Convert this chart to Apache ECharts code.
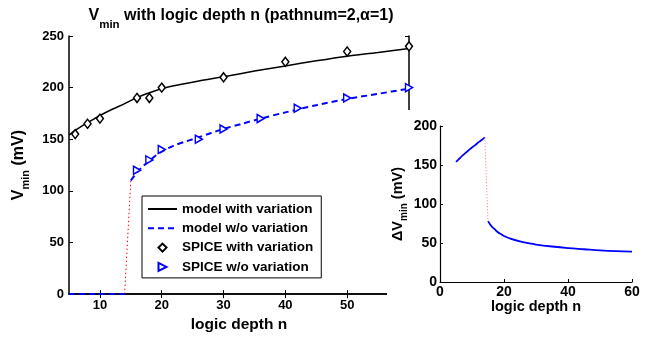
<!DOCTYPE html>
<html>
<head>
<meta charset="utf-8">
<script src="https://cdn.jsdelivr.net/npm/echarts@6/dist/echarts.min.js"></script>
<style>html,body{margin:0;padding:0;background:#fff}#c{width:650px;height:338px}</style>
</head>
<body>
<div id="c"></div>
<script>
// ---- data ----
const modelVarN = [5, 6, 7, 8, 9, 10, 12, 14, 16, 18, 20, 23, 26, 30, 35, 40, 45, 50, 55, 60];
const modelVarV = [154, 158.5, 162.5, 166, 169.5, 173, 179, 184.5, 190.5, 195, 199, 203, 206.5, 210.5, 216, 221, 226, 230.5, 234, 238];

const modelWoN1 = [5, 14];
const modelWoV1 = [0, 0];
const modelWoN2 = [15, 16, 17, 18, 19, 20, 22, 24, 26, 28, 30, 33, 36, 40, 45, 50, 55, 60];
const modelWoV2 = [110, 118, 124, 129, 134, 138, 144, 148, 152, 156, 160, 165, 170, 176, 183, 189, 194, 199];

const jumpN = [14, 15];
const jumpV = [0, 110];

const spiceVarN = [6, 8, 10, 16, 18, 20, 30, 40, 50, 60];
const spiceVarV = [155, 165, 170, 190, 190, 200, 210, 225, 235, 240];

const spiceWoN = [16, 18, 20, 26, 30, 36, 42, 50, 60];
const spiceWoV = [120, 130, 140, 150, 160, 170, 180, 190, 200];

const dN1 = [5, 6, 7, 8, 9, 10, 11, 12, 13, 14];
const dV1 = [154, 158, 162, 165.5, 169, 172.5, 175.5, 179, 182, 185.5];
const dN2 = [15, 16, 17, 18, 19, 20, 22, 25, 28, 30, 35, 40, 45, 50, 55, 60];
const dV2 = [78, 72, 68, 64, 61.5, 59, 55.5, 52, 49.5, 48, 45.5, 43.5, 42, 40.5, 39.5, 39];
const dJumpN = [14, 15];
const dJumpV = [185.5, 78];

const mainXTicks = [10, 20, 30, 40, 50];
const legendNames = ['model with variation', 'model w/o variation', 'SPICE with variation', 'SPICE w/o variation'];

// ---- helpers ----
const pairs = (xs, ys) => xs.map((x, i) => [x, ys[i]]);
const FONT = 'Liberation Sans, Arial, Helvetica, sans-serif';
const tri = 'path://M0,0L10,5L0,10Z';

const chart = echarts.init(document.getElementById('c'), null, {renderer: 'canvas'});

const axisLine = {show: true, lineStyle: {color: '#000', width: 1.5}};
const lbl = {color: '#000', fontFamily: FONT, fontWeight: 'bold', fontSize: 13};

chart.setOption({
  animation: false,
  backgroundColor: '#fff',
  title: {
    text: '{a|V}{s|min}{a| with logic depth n (pathnum=2,α=1)}',
    left: 236, top: 3, textAlign: 'center',
    textStyle: {
      rich: {
        a: {fontFamily: FONT, fontWeight: 'bold', fontSize: 16, color: '#000', lineHeight: 18, verticalAlign: 'top'},
        s: {fontFamily: FONT, fontWeight: 'bold', fontSize: 11.5, color: '#000', lineHeight: 18, verticalAlign: 'top', padding: [11, 0, 0, 0]}
      }
    }
  },
  grid: [
    {left: 69, top: 36, right: 241, bottom: 41, containLabel: false},
    {left: 440, top: 126, right: 18, bottom: 56, containLabel: false}
  ],
  legend: {
    data: [
      {name: legendNames[0], itemStyle: {opacity: 0}},
      {name: legendNames[1], itemStyle: {opacity: 0}},
      {name: legendNames[2]},
      {name: legendNames[3]}
    ],
    orient: 'vertical',
    left: 142, top: 196,
    width: 180,
    padding: [6, 8, 4, 5],
    itemGap: 5.3,
    itemWidth: 29, itemHeight: 10,
    backgroundColor: '#fff',
    borderColor: '#000', borderWidth: 1,
    textStyle: {color: '#000', fontFamily: FONT, fontWeight: 'bold', fontSize: 13.5, lineHeight: 14},
    z: 20
  },
  xAxis: [
    {gridIndex: 0, type: 'value', min: 5, max: 60, position: 'bottom',
     name: 'logic depth n', nameLocation: 'middle', nameGap: 18,
     nameTextStyle: {color: '#000', fontFamily: FONT, fontWeight: 'bold', fontSize: 15.5},
     axisLine: axisLine,
     axisTick: {show: true, inside: true, length: 4, customValues: mainXTicks, lineStyle: {color: '#000', width: 1}},
     axisLabel: Object.assign({customValues: mainXTicks, margin: 5}, lbl),
     splitLine: {show: false}},
    {gridIndex: 0, type: 'value', min: 5, max: 60, position: 'top',
     axisLine: axisLine,
     axisTick: {show: true, inside: true, length: 4, customValues: mainXTicks, lineStyle: {color: '#000', width: 1}},
     axisLabel: {show: false}, splitLine: {show: false}},
    {gridIndex: 1, type: 'value', min: 0, max: 60, interval: 20,
     name: 'logic depth n', nameLocation: 'middle', nameGap: 15,
     nameTextStyle: {color: '#000', fontFamily: FONT, fontWeight: 'bold', fontSize: 14.5},
     axisLine: {show: true, lineStyle: {color: '#000', width: 1.2}},
     axisTick: {show: true, inside: true, length: 3, lineStyle: {color: '#000', width: 1}},
     axisLabel: Object.assign({margin: 3}, lbl, {fontSize: 14}),
     splitLine: {show: false}, z: 60}
  ],
  yAxis: [
    {gridIndex: 0, type: 'value', min: 0, max: 250, interval: 50, position: 'left',
     name: '{v|V}{s|min}{v| (mV)}', nameLocation: 'middle', nameGap: 32, nameRotate: 90,
     nameTextStyle: {rich: {
       v: {fontFamily: FONT, fontWeight: 'bold', fontSize: 16, color: '#000', lineHeight: 20, verticalAlign: 'top'},
       s: {fontFamily: FONT, fontWeight: 'bold', fontSize: 11, color: '#000', lineHeight: 20, verticalAlign: 'top', padding: [10, 0, 0, 0]}
     }},
     axisLine: axisLine,
     axisTick: {show: true, inside: true, length: 4, lineStyle: {color: '#000', width: 1}},
     axisLabel: Object.assign({margin: 5}, lbl),
     splitLine: {show: false}},
    {gridIndex: 0, type: 'value', min: 0, max: 250, interval: 50, position: 'right',
     axisLine: axisLine,
     axisTick: {show: true, inside: true, length: 4, lineStyle: {color: '#000', width: 1}},
     axisLabel: {show: false}, splitLine: {show: false}},
    {gridIndex: 1, type: 'value', min: 0, max: 200, interval: 50,
     name: '{v|ΔV}{s|min}{v| (mV)}', nameLocation: 'middle', nameGap: 28, nameRotate: 90,
     nameTextStyle: {rich: {
       v: {fontFamily: FONT, fontWeight: 'bold', fontSize: 14.5, color: '#000', lineHeight: 18, verticalAlign: 'top'},
       s: {fontFamily: FONT, fontWeight: 'bold', fontSize: 10, color: '#000', lineHeight: 18, verticalAlign: 'top', padding: [9, 0, 0, 0]}
     }},
     axisLine: {show: true, lineStyle: {color: '#000', width: 1.2}},
     axisTick: {show: true, inside: true, length: 3, lineStyle: {color: '#000', width: 1}},
     axisLabel: Object.assign({margin: 3}, lbl, {fontSize: 14}),
     splitLine: {show: false}, z: 60}
  ],
  graphic: [
    {type: 'rect', left: 387, top: 110, shape: {width: 263, height: 228}, style: {fill: '#fff'}, z: 50, silent: true}
  ],
  series: [
    {name: 'model with variation', type: 'line', xAxisIndex: 0, yAxisIndex: 0,
     data: pairs(modelVarN, modelVarV), smooth: 0.3, symbol: 'none',
     lineStyle: {color: '#000', width: 1.5}, itemStyle: {color: '#000'}, z: 3},
    {name: 'model w/o variation', type: 'line', xAxisIndex: 0, yAxisIndex: 0,
     data: pairs(modelWoN1, modelWoV1).concat([[14.5, '-']], pairs(modelWoN2, modelWoV2)),
     smooth: 0.3, symbol: 'none', connectNulls: false,
     lineStyle: {color: '#0000ff', width: 2, type: [6, 4]}, itemStyle: {color: '#0000ff'}, z: 3},
    {name: 'jump', type: 'line', xAxisIndex: 0, yAxisIndex: 0,
     data: pairs(jumpN, jumpV), symbol: 'none',
     lineStyle: {color: '#ff0000', width: 1, type: [1.5, 2.5]}, z: 2},
    {name: 'SPICE with variation', type: 'line', xAxisIndex: 0, yAxisIndex: 0,
     data: pairs(spiceVarN, spiceVarV), symbol: 'diamond', symbolSize: [7, 9], showSymbol: true,
     lineStyle: {opacity: 0, width: 0}, itemStyle: {color: '#fff', borderColor: '#000', borderWidth: 1.5},
     clip: false, z: 4},
    {name: 'SPICE w/o variation', type: 'line', xAxisIndex: 0, yAxisIndex: 0,
     data: pairs(spiceWoN, spiceWoV), symbol: tri, symbolSize: [7, 8], showSymbol: true,
     lineStyle: {opacity: 0, width: 0}, itemStyle: {color: '#fff', borderColor: '#0000ff', borderWidth: 1.5},
     clip: false, z: 4},
    {name: 'delta', type: 'line', xAxisIndex: 2, yAxisIndex: 2,
     data: pairs(dN1, dV1).concat([[14.5, '-']], pairs(dN2, dV2)),
     smooth: 0.4, symbol: 'none', connectNulls: false,
     lineStyle: {color: '#0000ff', width: 1.8}, z: 60},
    {name: 'djump', type: 'line', xAxisIndex: 2, yAxisIndex: 2,
     data: pairs(dJumpN, dJumpV), symbol: 'none',
     lineStyle: {color: '#ff7070', width: 1, type: [1, 2]}, z: 60}
  ]
});
</script>
</body>
</html>
